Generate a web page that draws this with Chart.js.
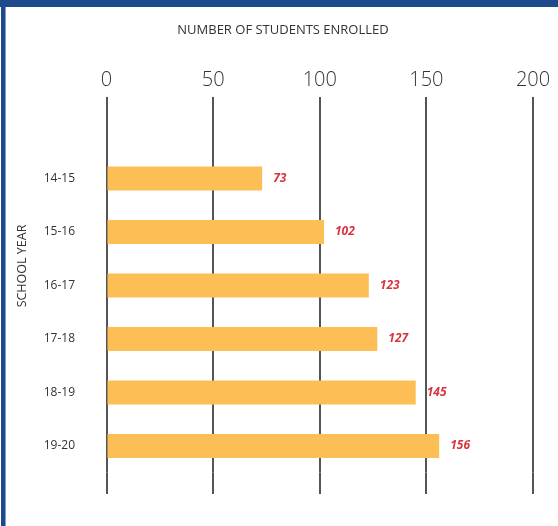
<!DOCTYPE html>
<html>
<head>
<meta charset="utf-8">
<script src="https://cdn.jsdelivr.net/npm/chart.js@4/dist/chart.umd.min.js"></script>
<style>
  html, body { margin: 0; padding: 0; background: #ffffff; }
  #wrap { position: relative; width: 558px; height: 526px; overflow: hidden; background: #ffffff; }
  #c { position: absolute; left: 0; top: 0; }
  .bt { position: absolute; left: 0; top: 0; width: 558px; height: 7px; background: #1e4a8b; }
  .bl { position: absolute; left: 1px; top: 0; width: 4px; height: 526px; background: #1e4a8b; }
  .bl2 { position: absolute; left: 5px; top: 7px; width: 1px; height: 519px; background: #7d9fd3; }
</style>
</head>
<body>
<div id="wrap">
  <canvas id="c" width="558" height="526"></canvas>
  <div class="bt"></div><div class="bl"></div><div class="bl2"></div>
</div>
<script>
const categories = ['14-15', '15-16', '16-17', '17-18', '18-19', '19-20'];
const enrolled = [73, 102, 123, 127, 145, 156];
const tickValues = [0, 50, 100, 150, 200];
const xTitle = 'NUMBER OF STUDENTS ENROLLED';
const yTitle = 'SCHOOL YEAR';

Chart.defaults.font.family = "'Open Sans', 'Noto Sans', sans-serif";
Chart.defaults.color = '#333333';

const valueLabels = {
  id: 'valueLabels',
  afterDatasetsDraw(chart) {
    const ctx = chart.ctx;
    const meta = chart.getDatasetMeta(0);
    ctx.save();
    ctx.font = "italic bold 12px 'Open Sans', sans-serif";
    ctx.fillStyle = '#d8343f';
    ctx.textAlign = 'left';
    ctx.textBaseline = 'middle';
    meta.data.forEach((bar, i) => {
      ctx.fillText(String(chart.data.datasets[0].data[i]), bar.x + 11, bar.y);
    });
    ctx.restore();
  }
};

const sideTitle = {
  id: 'sideTitle',
  afterDraw(chart) {
    const ctx = chart.ctx;
    ctx.save();
    ctx.translate(22, 266);
    ctx.rotate(-Math.PI / 2);
    ctx.font = "12.5px 'Open Sans', sans-serif";
    ctx.fillStyle = '#333333';
    ctx.textAlign = 'center';
    ctx.textBaseline = 'middle';
    ctx.fillText(yTitle, 0, 0);
    ctx.restore();
  }
};

new Chart(document.getElementById('c'), {
  type: 'bar',
  data: {
    labels: categories,
    datasets: [{
      data: enrolled,
      backgroundColor: '#fdbe55',
      borderWidth: 0,
      categoryPercentage: 1,
      barPercentage: 0.45
    }]
  },
  options: {
    indexAxis: 'y',
    responsive: false,
    animation: false,
    devicePixelRatio: 1,
    layout: { padding: { left: 33, right: 25, top: 0, bottom: 0 } },
    plugins: {
      legend: { display: false },
      tooltip: { enabled: false },
      title: {
        display: true,
        text: xTitle,
        color: '#333333',
        font: { size: 13, weight: 'normal' },
        padding: { top: 22, bottom: 10 }
      }
    },
    scales: {
      x: {
        position: 'top',
        min: 0,
        max: 200,
        afterBuildTicks(scale) { scale.ticks = tickValues.map(v => ({ value: v })); },
        afterFit(scale) { scale.height = 104.2; },
        grid: { color: '#555555', lineWidth: 2, tickLength: 54.7, drawTicks: true },
        border: { display: false },
        ticks: { padding: 5, font: { size: 20, weight: 300 }, color: '#333333' }
      },
      x2: {
        position: 'bottom',
        axis: 'x',
        min: 0,
        max: 200,
        afterBuildTicks(scale) { scale.ticks = tickValues.map(v => ({ value: v })); },
        afterFit(scale) { scale.height = 53.3; },
        grid: { color: '#555555', lineWidth: 2, tickLength: 21.3, drawOnChartArea: false },
        border: { display: false },
        ticks: { display: false }
      },
      y: {
        afterFit(scale) { scale.width = 73.5; },
        grid: { display: false, drawTicks: false },
        border: { display: false },
        ticks: { padding: 31.5, font: { size: 12 }, color: '#333333' }
      }
    }
  },
  plugins: [valueLabels, sideTitle]
});
</script>
</body>
</html>
